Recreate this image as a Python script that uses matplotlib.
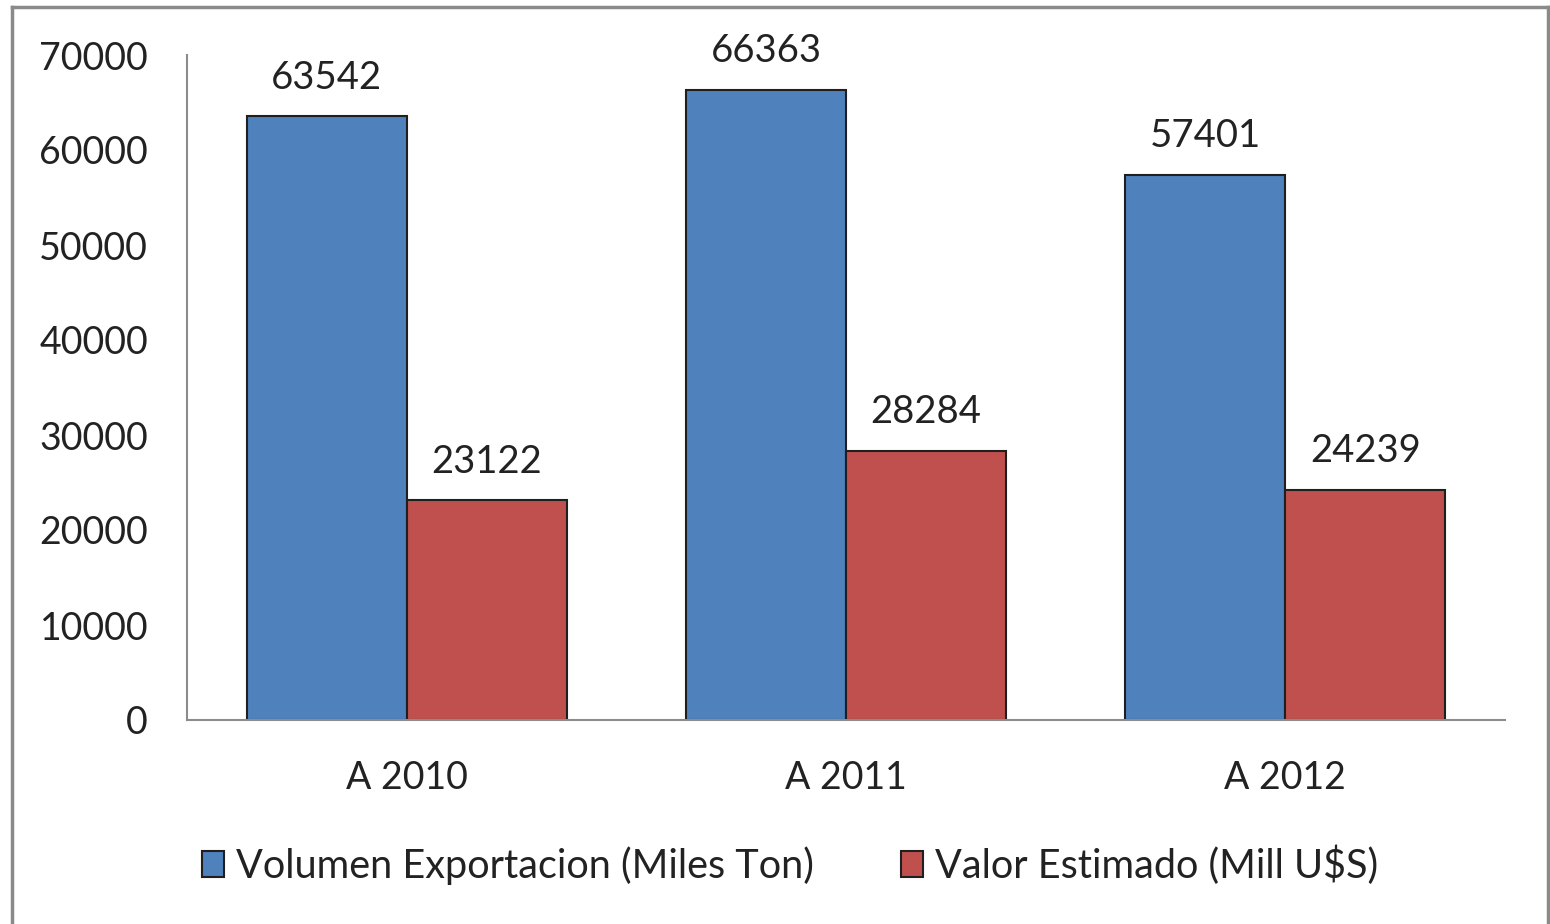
import matplotlib.pyplot as plt
import numpy as np
from matplotlib.lines import Line2D

# datos
categorias = ["A 2010", "A 2011", "A 2012"]
volumen = [63542, 66363, 57401]
valor = [23122, 28284, 24239]
series = ["Volumen Exportacion (Miles Ton)", "Valor Estimado (Mill U$S)"]

plt.rcParams['font.family'] = ['Lato', 'DejaVu Sans']

fig = plt.figure(figsize=(15.5, 9.24), dpi=100)
ax = fig.add_axes([187 / 1550, 1 - 720 / 924, (1505 - 187) / 1550, (720 - 55) / 924])

x = np.arange(len(categorias))
w = 0.364
b1 = ax.bar(x - w / 2, volumen, w, color="#4F81BD", edgecolor="#1f1f1f", linewidth=1.5, label=series[0])
b2 = ax.bar(x + w / 2, valor, w, color="#C0504D", edgecolor="#1f1f1f", linewidth=1.5, label=series[1])

for bars in (b1, b2):
    for r in bars:
        ax.annotate(str(int(r.get_height())), (r.get_x() + r.get_width() / 2, r.get_height()),
                    xytext=(0, 15), textcoords="offset points", ha="center", va="bottom",
                    fontsize=27.5, color="#222222")

ax.set_xlim(-0.5, 2.5)
ax.set_ylim(0, 70000)
ax.set_yticks(range(0, 70001, 10000))
ax.set_xticks(x)
ax.set_xticklabels(categorias)
ax.tick_params(axis="both", length=0, labelsize=27, colors="#222222")
ax.tick_params(axis="y", pad=28)
ax.tick_params(axis="x", pad=29)
for s in ("top", "right"):
    ax.spines[s].set_visible(False)
for s in ("left", "bottom"):
    ax.spines[s].set_color("#8c8c8c")
    ax.spines[s].set_linewidth(1.5)

leg = fig.legend(handles=[b1, b2], loc="center", bbox_to_anchor=(790 / 1550, 1 - 865 / 924),
                 ncol=2, frameon=False, fontsize=28.5, handlelength=0.56, handleheight=0.62,
                 handletextpad=0.3, columnspacing=2.2)
for t in leg.get_texts():
    t.set_color("#222222")

# marco gris
for xs, ys in (([12, 12], [0, 917]), ([12, 1548], [917, 917]), ([1548, 1548], [917, 0])):
    fig.add_artist(Line2D([v / 1550 for v in xs], [v / 924 for v in ys], color="#8a8a8a", lw=2.5))

fig.savefig("out.png", dpi=100)
